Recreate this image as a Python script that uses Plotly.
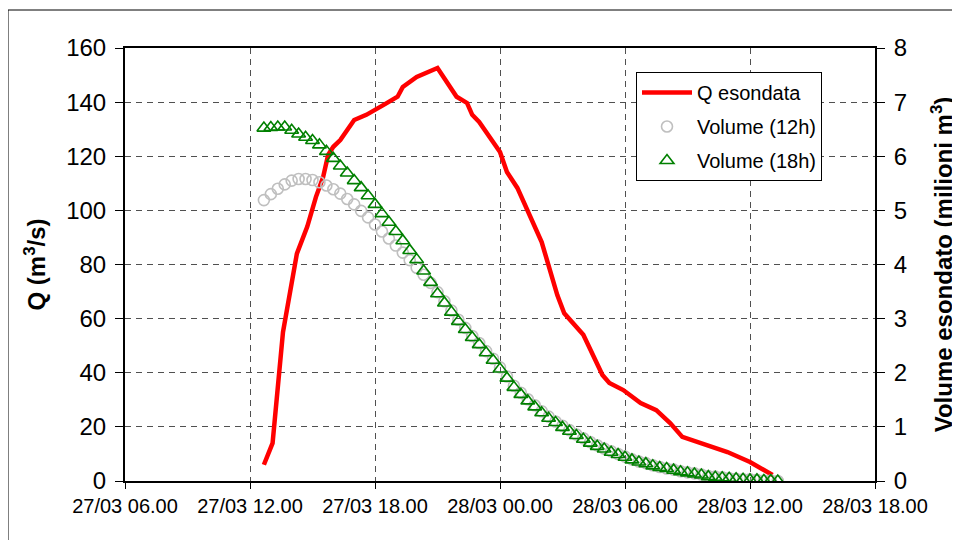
import pandas as pd
import plotly.graph_objects as go

# ---- data -------------------------------------------------------------
q_times = [
    "2010-03-27 12:40", "2010-03-27 13:05", "2010-03-27 13:35", "2010-03-27 14:00",
    "2010-03-27 14:15", "2010-03-27 14:45", "2010-03-27 15:10", "2010-03-27 15:30",
    "2010-03-27 15:45", "2010-03-27 16:00", "2010-03-27 16:20", "2010-03-27 17:00",
    "2010-03-27 17:35", "2010-03-27 18:25", "2010-03-27 19:05", "2010-03-27 19:20",
    "2010-03-27 20:00", "2010-03-27 21:00", "2010-03-27 21:55", "2010-03-27 22:25",
    "2010-03-27 22:40", "2010-03-27 23:00", "2010-03-27 23:25", "2010-03-28 00:00",
    "2010-03-28 00:20", "2010-03-28 00:50", "2010-03-28 02:00", "2010-03-28 02:25",
    "2010-03-28 02:45", "2010-03-28 03:05", "2010-03-28 04:00", "2010-03-28 04:55",
    "2010-03-28 05:15", "2010-03-28 05:55", "2010-03-28 06:45", "2010-03-28 07:30",
    "2010-03-28 08:10", "2010-03-28 08:45", "2010-03-28 09:55", "2010-03-28 10:55",
    "2010-03-28 12:00", "2010-03-28 13:05",
]
q_esondata = [
    6, 14, 55, 72, 84, 94, 105, 112, 120.5, 123.5, 126, 133.4,
    135.3, 139, 142, 145.6, 149.3, 152.6, 142, 139.7, 135.3, 132.7, 127.9, 121.6,
    114.2, 108.3, 88.3, 78, 68.7, 62, 54, 39.2, 36.2, 33.6, 28.8, 26.2,
    21.4, 16.3, 13.3, 10.7, 7, 2.2,
]

vol_times = pd.date_range("2010-03-27 12:40", periods=75, freq="20min")

volume_12h = [
    5.19, 5.30, 5.40, 5.48, 5.55, 5.58, 5.58, 5.56, 5.52, 5.46,
    5.39, 5.31, 5.21, 5.11, 4.99, 4.87, 4.74, 4.61, 4.48, 4.35,
    4.22, 4.08, 3.94, 3.81, 3.66, 3.49, 3.32, 3.15, 2.98, 2.83,
    2.68, 2.55, 2.40, 2.26, 2.10, 1.93, 1.76, 1.63, 1.51, 1.40,
    1.29, 1.19, 1.10, 1.02, 0.94, 0.86, 0.79, 0.72, 0.66, 0.60,
    0.55, 0.50, 0.45, 0.40, 0.36, 0.33, 0.29, 0.26, 0.23, 0.21,
    0.18, 0.16, 0.14, 0.12, 0.09, 0.08, 0.07, 0.05, 0.04, 0.03,
    0.03, 0.02, 0.01, 0.01, 0.00,
]

volume_18h = [
    6.52, 6.53, 6.54, 6.54, 6.48, 6.41, 6.35, 6.29, 6.21, 6.09,
    5.96, 5.82, 5.69, 5.55, 5.42, 5.27, 5.11, 4.94, 4.78, 4.61,
    4.44, 4.26, 4.09, 3.88, 3.67, 3.46, 3.29, 3.12, 2.95, 2.80,
    2.65, 2.52, 2.37, 2.23, 2.07, 1.90, 1.73, 1.60, 1.48, 1.37,
    1.26, 1.16, 1.08, 0.99, 0.92, 0.84, 0.77, 0.70, 0.64, 0.59,
    0.53, 0.49, 0.44, 0.39, 0.35, 0.32, 0.28, 0.25, 0.23, 0.20,
    0.17, 0.15, 0.13, 0.11, 0.08, 0.07, 0.06, 0.05, 0.04, 0.03,
    0.02, 0.02, 0.01, 0.01, 0.00,
]

x_range = ["2010-03-27 06:00", "2010-03-28 18:00"]
q_ticks = [0, 20, 40, 60, 80, 100, 120, 140, 160]
v_ticks = [0, 1, 2, 3, 4, 5, 6, 7, 8]

# ---- figure -----------------------------------------------------------
FONT = "Liberation Sans, Arial, sans-serif"

fig = go.Figure()
fig.add_trace(go.Scatter(
    x=q_times, y=q_esondata, name="Q esondata", mode="lines",
    line=dict(color="#FF0000", width=4.5), yaxis="y", legendgroup="a",
))
fig.add_trace(go.Scatter(
    x=vol_times, y=volume_12h, name="Volume (12h)", mode="markers",
    marker=dict(symbol="circle-open", size=11, color="#BFBFBF",
                line=dict(width=1.6, color="#BFBFBF")),
    yaxis="y2", legendgroup="b",
))
fig.add_trace(go.Scatter(
    x=vol_times, y=volume_18h, name="Volume (18h)", mode="markers",
    marker=dict(symbol="triangle-up-open", size=12, color="#008000",
                line=dict(width=1.6, color="#008000")),
    yaxis="y2", legendgroup="c",
))

grid_kw = dict(showgrid=True, gridcolor="#505050", gridwidth=1, griddash="6px,5px")

# page body has an 8px offset: plot area target is x 125..875, y 48..481
fig.update_layout(
    width=960, height=540,
    margin=dict(l=117, r=93, t=40, b=67),
    paper_bgcolor="white", plot_bgcolor="white",
    font=dict(family=FONT, color="black"),
    showlegend=True,
    legend=dict(
        x=(636 - 125) / 750, y=(481 - 72) / 433, xanchor="left", yanchor="top",
        bgcolor="white", bordercolor="black", borderwidth=1,
        font=dict(size=20, family=FONT), tracegroupgap=5, itemwidth=50,
    ),
    xaxis=dict(
        type="date", range=x_range, dtick=6 * 3600 * 1000,
        tick0="2010-03-27 06:00", tickformat="%d/%m %H.%M",
        tickfont=dict(size=20), ticks="outside", ticklen=6, tickcolor="black",
        showline=True, linecolor="black", linewidth=2, mirror=True,
        zeroline=False, **grid_kw,
    ),
    yaxis=dict(
        range=[0, 160], tickvals=q_ticks, tickfont=dict(size=24),
        ticks="outside", ticklen=8, tickcolor="black", ticklabelstandoff=4,
        showline=True, linecolor="black", linewidth=2, mirror=True,
        zeroline=False,
        title=dict(text="<b>Q (m<sup>3</sup>/s)</b>", font=dict(size=24), standoff=14),
        **grid_kw,
    ),
    yaxis2=dict(
        range=[0, 8], tickvals=v_ticks, tickfont=dict(size=24),
        overlaying="y", side="right",
        ticks="outside", ticklen=8, tickcolor="black", ticklabelstandoff=4,
        showline=True, linecolor="black", linewidth=2,
        showgrid=False, zeroline=False,
        title=dict(text="<b>Volume esondato (milioni m<sup>3</sup>)</b>",
                   font=dict(size=24), standoff=29),
    ),
    shapes=[dict(
        type="rect", xref="paper", yref="paper",
        x0=(8 - 125) / 750, x1=(975 - 125) / 750,
        y0=(481 - 560) / 433, y1=(481 - 10) / 433,
        line=dict(color="black", width=1), fillcolor="rgba(0,0,0,0)",
        layer="below",
    )],
)

fig.write_html("out.html")
